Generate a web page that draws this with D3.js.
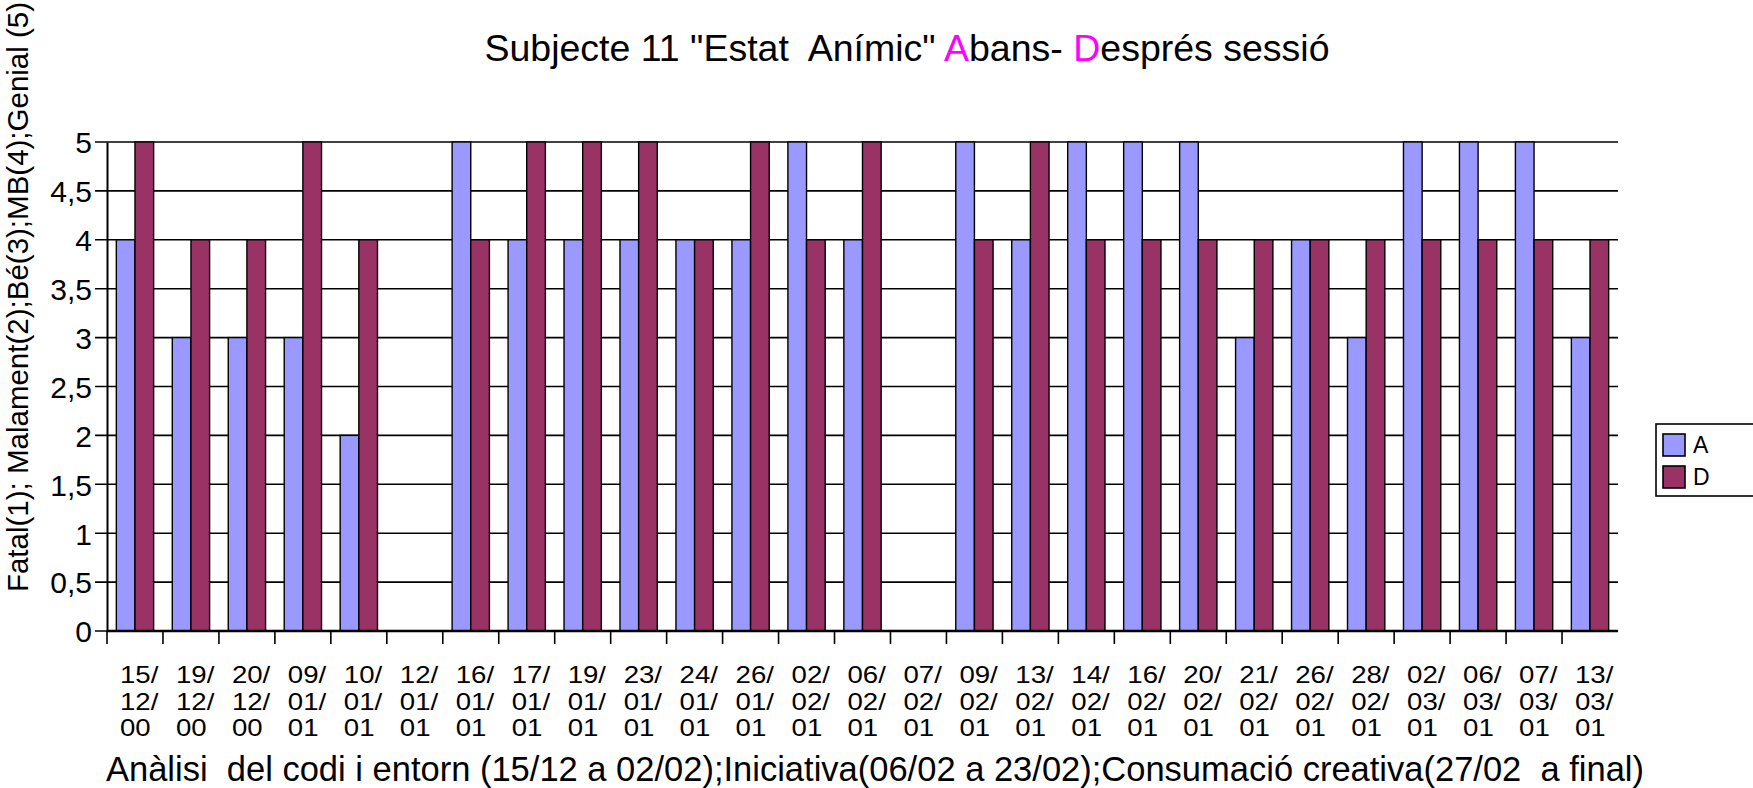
<!DOCTYPE html>
<html>
<head>
<meta charset="utf-8">
<script src="https://cdn.jsdelivr.net/npm/d3@7"></script>
<style>
  body { margin: 0; background: #fff; }
  svg { display: block; font-family: "Liberation Sans", Arial, sans-serif; }
</style>
</head>
<body>
<div id="container"></div>
<script>
/* DATA */
const dates = ["15/12/00", "19/12/00", "20/12/00", "09/01/01", "10/01/01", "12/01/01", "16/01/01",
  "17/01/01", "19/01/01", "23/01/01", "24/01/01", "26/01/01", "02/02/01", "06/02/01", "07/02/01",
  "09/02/01", "13/02/01", "14/02/01", "16/02/01", "20/02/01", "21/02/01", "26/02/01", "28/02/01",
  "02/03/01", "06/03/01", "07/03/01", "13/03/01"];
const abans   = [4, 3, 3, 3, 2, null, 5, 4, 4, 4, 4, 4, 5, 4, null, 5, 4, 5, 5, 5, 3, 4, 3, 5, 5, 5, 3];
const despres = [5, 4, 4, 5, 4, null, 4, 5, 5, 5, 4, 5, 4, 5, null, 4, 5, 4, 4, 4, 4, 4, 4, 4, 4, 4, 4];
const seriesNames = ["A", "D"];
const seriesColors = ["#9999ff", "#993366"];
const yTicks = [0, 0.5, 1, 1.5, 2, 2.5, 3, 3.5, 4, 4.5, 5];

/* CONSTANTS AND GLOBALS */
const width = 1753,
  height = 788,
  margin = { top: 142, bottom: 157, left: 107, right: 135 };

const rows = dates.map((d, i) => ({ date: d, A: abans[i], D: despres[i] }));

// widen a text to k times its natural length
function stretch(sel, k) {
  sel.each(function() {
    const len = this.getComputedTextLength();
    d3.select(this).attr("textLength", len * k).attr("lengthAdjust", "spacingAndGlyphs");
  });
}

/* SCALES */
const xScale = d3.scaleBand()
  .domain(dates)
  .range([margin.left, width - margin.right])
  .paddingInner(1 / 3)
  .paddingOuter(1 / 6);

const step = xScale.step();

const subScale = d3.scaleBand()
  .domain(seriesNames)
  .range([0, xScale.bandwidth()]);

const yScale = d3.scaleLinear()
  .domain([0, 5])
  .range([height - margin.bottom, margin.top]);

const colorScale = d3.scaleOrdinal()
  .domain(seriesNames)
  .range(seriesColors);

/* HTML ELEMENTS */
const svg = d3.select("#container")
  .append("svg")
  .attr("width", width)
  .attr("height", height);

// gridlines (they also stick out left as tick marks)
svg.append("g")
  .selectAll("line")
  .data(yTicks)
  .join("line")
  .attr("x1", margin.left - 12)
  .attr("x2", width - margin.right)
  .attr("y1", d => yScale(d))
  .attr("y2", d => yScale(d))
  .attr("stroke", "#000")
  .attr("stroke-width", 1.6);

// bars
const groups = svg.append("g")
  .selectAll("g")
  .data(rows)
  .join("g")
  .attr("transform", d => `translate(${xScale(d.date)},0)`);

groups.selectAll("rect")
  .data(d => seriesNames.map(k => ({ key: k, value: d[k] })).filter(v => v.value != null))
  .join("rect")
  .attr("x", d => subScale(d.key))
  .attr("y", d => yScale(d.value))
  .attr("width", subScale.bandwidth())
  .attr("height", d => yScale(0) - yScale(d.value))
  .attr("fill", d => colorScale(d.key))
  .attr("stroke", "#000")
  .attr("stroke-width", 1.4);

// y axis
const yAxis = d3.axisLeft(yScale)
  .tickValues(yTicks)
  .tickSize(0)
  .tickPadding(15)
  .tickFormat(d => String(d).replace(".", ","));

const yAxisG = svg.append("g")
  .attr("transform", `translate(${margin.left},0)`)
  .call(yAxis);

yAxisG.select(".domain").attr("stroke-width", 2);
yAxisG.selectAll("text")
  .attr("font-size", 30)
  .attr("font-family", "Liberation Sans, Arial, sans-serif")
  .attr("fill", "#000")
  .attr("dy", "0.36em");

// x axis line and ticks at category boundaries
svg.append("line")
  .attr("x1", margin.left)
  .attr("x2", width - margin.right)
  .attr("y1", yScale(0))
  .attr("y2", yScale(0))
  .attr("stroke", "#000")
  .attr("stroke-width", 2.6);

svg.append("g")
  .selectAll("line")
  .data(dates)
  .join("line")
  .attr("x1", d => xScale(d) - step / 6)
  .attr("x2", d => xScale(d) - step / 6)
  .attr("y1", yScale(0))
  .attr("y2", yScale(0) + 13)
  .attr("stroke", "#000")
  .attr("stroke-width", 1.6);

// x tick labels, the date split over three tight lines
const xLabelLines = dates.flatMap(d => {
  const p = d.split("/");
  const x = xScale(d) + xScale.bandwidth() / 2 - 15;
  return [p[0] + "/", p[1] + "/", p[2]].map((t, j) => ({ t, x, j }));
});

svg.append("g")
  .selectAll("text")
  .data(xLabelLines)
  .join("text")
  .attr("x", d => d.x)
  .attr("y", d => yScale(0) + 52 + d.j * 26.5)
  .attr("font-size", 24)
  .text(d => d.t)
  .call(stretch, 1.15);

// axis titles
svg.append("text")
  .attr("x", 875)
  .attr("y", 781)
  .attr("text-anchor", "middle")
  .attr("font-size", 34.5)
  .style("white-space", "pre")
  .text("Anàlisi  del codi i entorn (15/12 a 02/02);Iniciativa(06/02 a 23/02);Consumació creativa(27/02  a final)");

svg.append("text")
  .attr("transform", "translate(28,297) rotate(-90)")
  .attr("text-anchor", "middle")
  .attr("font-size", 29.5)
  .text("Fatal(1); Malament(2);Bé(3);MB(4);Genial (5)");

// title
const title = svg.append("text")
  .attr("x", 907)
  .attr("y", 61)
  .attr("text-anchor", "middle")
  .attr("font-size", 37.5)
  .style("white-space", "pre");
title.append("tspan").text('Subjecte 11 "Estat  Anímic" ');
title.append("tspan").attr("fill", "#ff00ff").text("A");
title.append("tspan").text("bans- ");
title.append("tspan").attr("fill", "#ff00ff").text("D");
title.append("tspan").text("esprés sessió");

// legend
const legend = svg.append("g")
  .attr("transform", "translate(1656,424)");

legend.append("rect")
  .attr("width", 120)
  .attr("height", 72)
  .attr("fill", "#fff")
  .attr("stroke", "#000")
  .attr("stroke-width", 1.6);

const legendItem = legend.selectAll("g")
  .data(seriesNames)
  .join("g")
  .attr("transform", (d, i) => `translate(7,${10 + i * 32})`);

legendItem.append("rect")
  .attr("width", 22)
  .attr("height", 22)
  .attr("fill", d => colorScale(d))
  .attr("stroke", "#000")
  .attr("stroke-width", 1.6);

legendItem.append("text")
  .attr("x", 30)
  .attr("y", 19)
  .attr("font-size", 23)
  .text(d => d);
</script>
</body>
</html>
